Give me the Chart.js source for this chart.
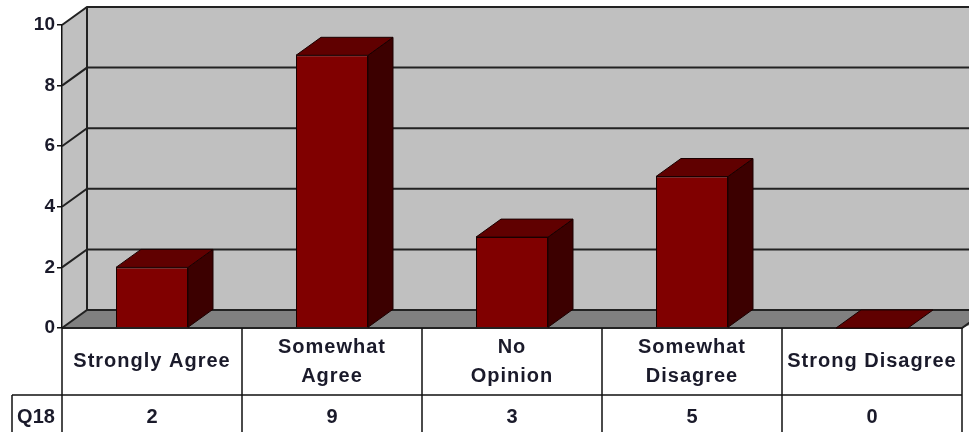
<!DOCTYPE html>
<html>
<head>
<meta charset="utf-8">
<script src="https://cdn.jsdelivr.net/npm/chart.js@4.4.1/dist/chart.umd.min.js"></script>
<style>
  html, body { margin: 0; padding: 0; background: #ffffff; }
  #wrap { width: 969px; height: 432px; }
</style>
</head>
<body>
<div id="wrap"><canvas id="chartQ18" width="969" height="432"></canvas></div>
<script>
// dados do gráfico
const categorias = [['Strongly Agree'], ['Somewhat', 'Agree'], ['No', 'Opinion'], ['Somewhat', 'Disagree'], ['Strong Disagree']];
const serieNome = 'Q18';
const valores = [2, 9, 3, 5, 0];
const yTicks = [0, 2, 4, 6, 8, 10];

// profundidade do efeito 3D
const DX = 25;
const DY = -18;
const corTexto = '#1a1a2a';
const fonte = '"Liberation Sans", Arial, sans-serif';

// parede, chão e linhas de grade em 3D
const parede3d = {
    id: 'parede3d',
    beforeDraw(chart) {
        const ctx = chart.ctx;
        const a = chart.chartArea;
        const y = chart.scales.y;
        const W = chart.width + 40;
        ctx.save();
        // chão
        ctx.fillStyle = '#808080';
        ctx.beginPath();
        ctx.moveTo(a.left, a.bottom);
        ctx.lineTo(a.left + DX, a.bottom + DY);
        ctx.lineTo(W, a.bottom + DY);
        ctx.lineTo(a.right, a.bottom);
        ctx.closePath();
        ctx.fill();
        // parede lateral
        ctx.fillStyle = '#c0c0c0';
        ctx.beginPath();
        ctx.moveTo(a.left, a.top);
        ctx.lineTo(a.left + DX, a.top + DY);
        ctx.lineTo(a.left + DX, a.bottom + DY);
        ctx.lineTo(a.left, a.bottom);
        ctx.closePath();
        ctx.fill();
        // parede do fundo
        ctx.fillRect(a.left + DX, a.top + DY, W, a.bottom - a.top);

        // grade
        ctx.strokeStyle = '#222222';
        ctx.lineWidth = 2;
        yTicks.forEach(function (t) {
            const py = y.getPixelForValue(t);
            ctx.beginPath();
            ctx.moveTo(a.left, py);
            ctx.lineTo(a.left + DX, py + DY);
            ctx.lineTo(W, py + DY);
            ctx.stroke();
        });
        // arestas
        ctx.beginPath();
        ctx.moveTo(a.left + DX, a.top + DY);
        ctx.lineTo(a.left + DX, a.bottom + DY);
        ctx.stroke();
        ctx.beginPath();
        ctx.moveTo(a.left, a.bottom);
        ctx.lineTo(a.right, a.bottom);
        ctx.lineTo(a.right + DX, a.bottom + DY);
        ctx.stroke();
        ctx.restore();
    }
};

// faces de cima e do lado das barras
const barras3d = {
    id: 'barras3d',
    afterDatasetsDraw(chart) {
        const ctx = chart.ctx;
        const meta = chart.getDatasetMeta(0);
        ctx.save();
        ctx.strokeStyle = '#1a0000';
        ctx.lineWidth = 1;
        meta.data.forEach(function (bar) {
            const p = bar.getProps(['x', 'y', 'base', 'width'], true);
            const x0 = p.x - p.width / 2;
            const x1 = p.x + p.width / 2;
            // lado
            if (p.base - p.y > 0.5) {
                ctx.fillStyle = '#3c0000';
                ctx.beginPath();
                ctx.moveTo(x1, p.y);
                ctx.lineTo(x1 + DX, p.y + DY);
                ctx.lineTo(x1 + DX, p.base + DY);
                ctx.lineTo(x1, p.base);
                ctx.closePath();
                ctx.fill();
                ctx.stroke();
            }
            // topo
            ctx.fillStyle = '#600000';
            ctx.beginPath();
            ctx.moveTo(x0, p.y);
            ctx.lineTo(x0 + DX, p.y + DY);
            ctx.lineTo(x1 + DX, p.y + DY);
            ctx.lineTo(x1, p.y);
            ctx.closePath();
            ctx.fill();
            ctx.stroke();
        });
        ctx.restore();
    }
};

// tabela de dados embaixo do gráfico
const tabela = {
    id: 'tabela',
    afterDraw(chart) {
        const ctx = chart.ctx;
        const a = chart.chartArea;
        const xs = chart.scales.x;
        const colW = (a.right - a.left) / categorias.length;
        const linha1 = a.bottom;
        const linha2 = a.bottom + 67;
        const fim = chart.height + 10;
        const esq = 12;
        ctx.save();
        ctx.fillStyle = '#ffffff';
        ctx.fillRect(esq, linha2, a.right - esq, fim - linha2);
        ctx.fillRect(a.left, linha1 + 1, a.right - a.left, linha2 - linha1);

        ctx.strokeStyle = '#111111';
        ctx.lineWidth = 1.5;
        ctx.beginPath();
        ctx.moveTo(esq, linha2);
        ctx.lineTo(a.right, linha2);
        ctx.moveTo(esq, linha2);
        ctx.lineTo(esq, fim);
        for (let i = 0; i <= categorias.length; i++) {
            const px = a.left + i * colW;
            ctx.moveTo(px, linha1);
            ctx.lineTo(px, fim);
        }
        ctx.stroke();

        ctx.fillStyle = corTexto;
        ctx.font = 'bold 20px ' + fonte;
        ctx.textAlign = 'center';
        ctx.textBaseline = 'middle';
        categorias.forEach(function (linhas, i) {
            const cx = xs.getPixelForValue(i);
            const meio = (linha1 + linha2) / 2;
            ctx.letterSpacing = '1px';
            linhas.forEach(function (txt, j) {
                const ty = meio + (j - (linhas.length - 1) / 2) * 29;
                ctx.fillText(txt, cx, ty);
            });
            ctx.letterSpacing = '0px';
            ctx.fillText(String(valores[i]), cx, linha2 + 22);
        });
        ctx.fillText(serieNome, (esq + a.left) / 2 - 1, linha2 + 22);
        ctx.restore();
    }
};

const ctx = document.getElementById('chartQ18').getContext('2d');

const grafico = new Chart(ctx, {
    type: 'bar',
    data: {
        labels: categorias.map(function (c) { return c.join(' '); }),
        datasets: [
            {
                label: serieNome,
                data: valores,
                backgroundColor: '#800000',
                borderColor: '#1a0000',
                borderWidth: 1,
                barPercentage: 0.4,
                categoryPercentage: 1
            }
        ]
    },
    options: {
        responsive: false,
        animation: false,
        layout: {
            padding: { left: 0, top: 25, right: 7, bottom: 104 }
        },
        plugins: {
            legend: { display: false },
            tooltip: { enabled: false }
        },
        scales: {
            x: {
                display: false
            },
            y: {
                min: 0,
                max: 10,
                afterFit: function (scale) { scale.width = 62; },
                afterBuildTicks: function (scale) {
                    scale.ticks = yTicks.map(function (v) { return { value: v }; });
                },
                ticks: {
                    color: corTexto,
                    padding: 2,
                    font: { family: fonte, size: 19, weight: 'bold' }
                },
                grid: {
                    drawOnChartArea: false,
                    drawTicks: true,
                    tickLength: 5,
                    color: '#111111',
                    lineWidth: 1.5
                },
                border: {
                    display: true,
                    color: '#111111',
                    width: 1.5
                }
            }
        }
    },
    plugins: [parede3d, barras3d, tabela]
});
</script>
</body>
</html>
